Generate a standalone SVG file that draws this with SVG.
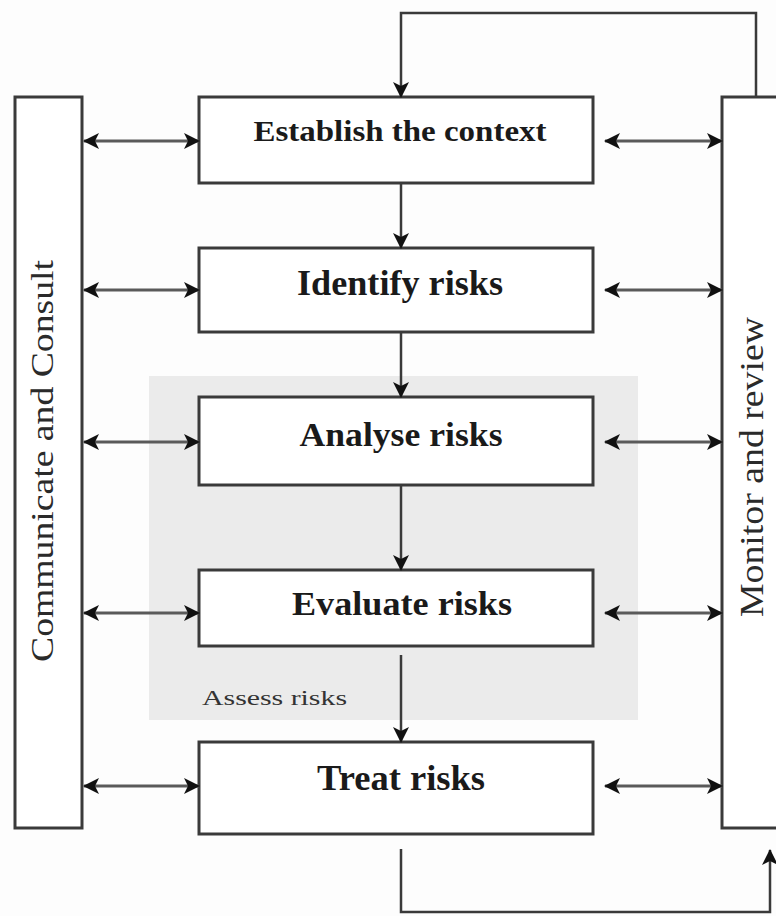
<svg xmlns="http://www.w3.org/2000/svg" width="776" height="916" viewBox="0 0 776 916">
<style>
.box{fill:#fff;stroke:#3a3a3a;stroke-width:3}
.side{fill:#fff;stroke:#3a3a3a;stroke-width:3}
.lbl{font-family:"Liberation Serif","Times New Roman",serif;font-weight:bold;fill:#1a1a1a;text-anchor:middle}
.vlbl{font-family:"Liberation Serif","Times New Roman",serif;fill:#2a2a2a;text-anchor:middle}
.con{fill:none;stroke:#3a3a3a;stroke-width:2.5}
.dbl{fill:none;stroke:#5a5a5a;stroke-width:3;marker-start:url(#ah);marker-end:url(#ah)}
.one{marker-end:url(#ah)}
</style>
<defs>
<marker id="ah" viewBox="0 0 16 16" refX="15" refY="8" markerWidth="16" markerHeight="16" markerUnits="userSpaceOnUse" orient="auto-start-reverse">
<path d="M0,0 L16,8 L0,16 L4,8 z" fill="#111"/>
</marker>
</defs>
<rect width="776" height="916" fill="#fdfdfd"/>
<g id="assess">
<rect x="149" y="376" width="489" height="344" fill="#ebebeb"/>
<text x="202" y="705" font-family="Liberation Serif, Times New Roman, serif" font-size="22" fill="#333" textLength="145" lengthAdjust="spacingAndGlyphs">Assess risks</text>
</g>
<g id="communicate">
<rect class="side" x="15" y="97" width="67" height="731"/>
<text class="vlbl" transform="translate(53,461) rotate(-90)" font-size="32" textLength="402" lengthAdjust="spacingAndGlyphs">Communicate and Consult</text>
</g>
<g id="monitor">
<rect class="side" x="722" y="97" width="80" height="731"/>
<text class="vlbl" transform="translate(763,467) rotate(-90)" font-size="34" textLength="300" lengthAdjust="spacingAndGlyphs">Monitor and review</text>
</g>
<g id="establish">
<rect class="box" x="199" y="97" width="394" height="86"/>
<text class="lbl" x="400" y="141" font-size="30" textLength="293" lengthAdjust="spacingAndGlyphs">Establish the context</text>
</g>
<g id="identify">
<rect class="box" x="199" y="248" width="394" height="84"/>
<text class="lbl" x="400" y="295" font-size="35" textLength="206" lengthAdjust="spacingAndGlyphs">Identify risks</text>
</g>
<g id="analyse">
<rect class="box" x="199" y="397" width="394" height="88"/>
<text class="lbl" x="401" y="446" font-size="34" textLength="203" lengthAdjust="spacingAndGlyphs">Analyse risks</text>
</g>
<g id="evaluate">
<rect class="box" x="199" y="570" width="394" height="76"/>
<text class="lbl" x="402" y="615" font-size="33" textLength="220" lengthAdjust="spacingAndGlyphs">Evaluate risks</text>
</g>
<g id="treat">
<rect class="box" x="199" y="742" width="394" height="92"/>
<text class="lbl" x="401" y="790" font-size="35" textLength="168" lengthAdjust="spacingAndGlyphs">Treat risks</text>
</g>
<g id="connectors">
<path class="con one" d="M401,183 V248"/>
<path class="con one" d="M401,332 V397"/>
<path class="con one" d="M401,485 V570"/>
<path class="con one" d="M401,655 V742"/>
<path class="con one" d="M756,97 V13 H401 V97"/>
<path class="con one" d="M401,849 V912 H770 V850"/>
<path class="dbl" d="M84,141 H199"/>
<path class="dbl" d="M84,290 H199"/>
<path class="dbl" d="M84,442 H199"/>
<path class="dbl" d="M84,613 H199"/>
<path class="dbl" d="M84,786 H199"/>
<path class="dbl" d="M605,141 H722"/>
<path class="dbl" d="M605,290 H722"/>
<path class="dbl" d="M605,442 H722"/>
<path class="dbl" d="M605,613 H722"/>
<path class="dbl" d="M605,786 H722"/>
</g>
</svg>
